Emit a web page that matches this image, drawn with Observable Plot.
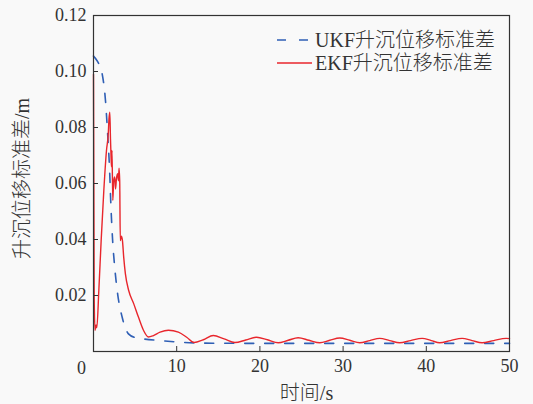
<!DOCTYPE html>
<html>
<head>
<meta charset="utf-8">
<script src="https://cdn.jsdelivr.net/npm/d3@7"></script>
<script src="https://cdn.jsdelivr.net/npm/@observablehq/plot@0.6"></script>
<style>
  html, body { margin: 0; padding: 0; background: #f9f9f9; }
  #wrap { position: relative; width: 533px; height: 404px; }
  #legend { position: absolute; left: 0; top: 0; pointer-events: none; }
</style>
</head>
<body>
<div id="wrap"></div>
<script>
const seriesNames = ["UKF升沉位移标准差", "EKF升沉位移标准差"];
const seriesColors = ["#2f5fb5", "#e8262c"];
const xTitle = "时间/s";
const yTitle = "升沉位移标准差/m";
const xTickLabels = [10, 20, 30, 40, 50];
const xInnerTicks = [10, 20, 30, 40];
const yTickLabels = [0.02, 0.04, 0.06, 0.08, 0.10, 0.12];
const yInnerTicks = [0.02, 0.04, 0.06, 0.08, 0.10];
const cornerLabel = [0];

const ukfT = [0, 0.5, 1.04, 1.44, 1.7, 1.92, 2.1, 2.3, 2.55, 2.9, 3.44, 4.2, 5.0, 6.0, 8, 10, 13, 20, 30, 40, 50];
const ukfV = [0.1055, 0.1035, 0.0992, 0.0896, 0.0777, 0.0658, 0.0515, 0.0396, 0.0301, 0.0206, 0.0123, 0.0063, 0.0050, 0.0045, 0.0039, 0.0034, 0.0030, 0.0029, 0.0029, 0.0029, 0.0029];

const ekfT = [0, 0.08, 0.18, 0.3, 0.4, 0.64, 0.92, 1.24, 1.56, 1.78, 1.86, 1.96, 2.04, 2.1, 2.16, 2.22, 2.32, 2.43, 2.55, 2.65, 2.75, 2.9, 3.0, 3.07, 3.15, 3.22, 3.35, 3.48, 3.63, 3.83, 4.23, 4.83, 5.4, 6.02, 6.6, 7.2, 8.0, 9.0, 10.2, 11.2, 12.1,
  13.2, 14.4, 15.7, 17.0, 18.3, 19.6, 20.9, 22.2, 23.4, 24.6, 25.9, 27.2, 28.4, 29.6, 30.8, 32.0, 33.2, 34.4, 35.6, 36.8, 38.1, 39.5, 40.6, 41.6, 42.9, 44.3, 45.5, 46.7, 48.1, 49.6, 50];
const ekfV = [0.099, 0.02, 0.0075, 0.0095, 0.0085, 0.0218, 0.0396, 0.0575, 0.0718, 0.078, 0.083, 0.0855, 0.076, 0.0705, 0.066, 0.0718, 0.054, 0.061, 0.0623, 0.058, 0.0615, 0.0635, 0.061, 0.0655, 0.061, 0.0396, 0.0412, 0.0396, 0.0337, 0.0278, 0.0218, 0.0171, 0.0123, 0.0075, 0.0052, 0.0057, 0.0069, 0.0076, 0.0069, 0.0051, 0.0032,
  0.0042, 0.0057, 0.0045, 0.0032, 0.0041, 0.0051, 0.0042, 0.0031, 0.0040, 0.0049, 0.0040, 0.0031, 0.0040, 0.0048, 0.0040, 0.0031, 0.0039, 0.0047, 0.0039, 0.0031, 0.0039, 0.0047, 0.0039, 0.0031, 0.0039, 0.0047, 0.0039, 0.0031, 0.0039, 0.0047, 0.0046];

const ukf = ukfT.map((t, i) => ({t, v: ukfV[i]}));
const ekf = ekfT.map((t, i) => ({t, v: ekfV[i]}));

const FONT = "'Liberation Serif', 'Noto Sans CJK SC', serif";
const INK = "#333";

const chart = Plot.plot({
  width: 533,
  height: 404,
  marginLeft: 93,
  marginRight: 24,
  marginTop: 15,
  marginBottom: 53,
  style: {fontFamily: FONT, fontSize: "18px", color: INK, background: "transparent", overflow: "visible"},
  x: {domain: [0, 50], axis: null},
  y: {domain: [0, 0.12], axis: null},
  marks: [
    Plot.line(ukf, {x: "t", y: "v", stroke: seriesColors[0], strokeWidth: 1.6, strokeDasharray: "9,11", curve: "monotone-x"}),
    Plot.line(ekf, {x: "t", y: "v", stroke: seriesColors[1], strokeWidth: 1.4, curve: "monotone-x"}),
    Plot.axisX(xInnerTicks, {tickSize: -5, fill: "none", stroke: INK, label: null}),
    Plot.axisX(xTickLabels, {tickSize: 0, tickPadding: 8, label: null, fontSize: 18}),
    Plot.axisY(yInnerTicks, {tickSize: -5, fill: "none", stroke: INK, label: null}),
    Plot.axisY(yTickLabels, {tickSize: 0, tickPadding: 7, tickFormat: d3.format(".2f"), label: null, fontSize: 18}),
    Plot.text(cornerLabel, {x: d => d, y: d => d, text: d => String(d), dx: -12, dy: 17, fontSize: 18, fill: INK}),
    Plot.frame({stroke: INK, strokeWidth: 1.2}),
    Plot.text([xTitle], {frameAnchor: "bottom", textAnchor: "middle", lineAnchor: "middle", dy: 42, dx: 5, fontSize: 20, fontWeight: 300, fill: INK}),
    Plot.text([yTitle], {frameAnchor: "left", textAnchor: "middle", lineAnchor: "middle", rotate: -90, dx: -71, dy: -5, fontSize: 20, fontWeight: 300, fill: INK})
  ]
});
document.getElementById("wrap").appendChild(chart);

// legend inside the plot area
const ns = "http://www.w3.org/2000/svg";
const leg = document.createElementNS(ns, "svg");
leg.setAttribute("id", "legend");
leg.setAttribute("width", 533);
leg.setAttribute("height", 404);
const rows = [40, 63];
seriesNames.forEach((name, i) => {
  const ln = document.createElementNS(ns, "line");
  ln.setAttribute("x1", 277); ln.setAttribute("x2", 312);
  ln.setAttribute("y1", rows[i]); ln.setAttribute("y2", rows[i]);
  ln.setAttribute("stroke", seriesColors[i]);
  ln.setAttribute("stroke-width", 1.6);
  if (i === 0) ln.setAttribute("stroke-dasharray", "9,13");
  leg.appendChild(ln);
  const tx = document.createElementNS(ns, "text");
  tx.setAttribute("x", 315); tx.setAttribute("y", rows[i]);
  tx.setAttribute("dominant-baseline", "central");
  tx.setAttribute("font-family", FONT);
  tx.setAttribute("font-size", 20);
  tx.setAttribute("font-weight", 300);
  tx.setAttribute("fill", INK);
  tx.textContent = name;
  leg.appendChild(tx);
});
document.getElementById("wrap").appendChild(leg);
</script>
</body>
</html>
